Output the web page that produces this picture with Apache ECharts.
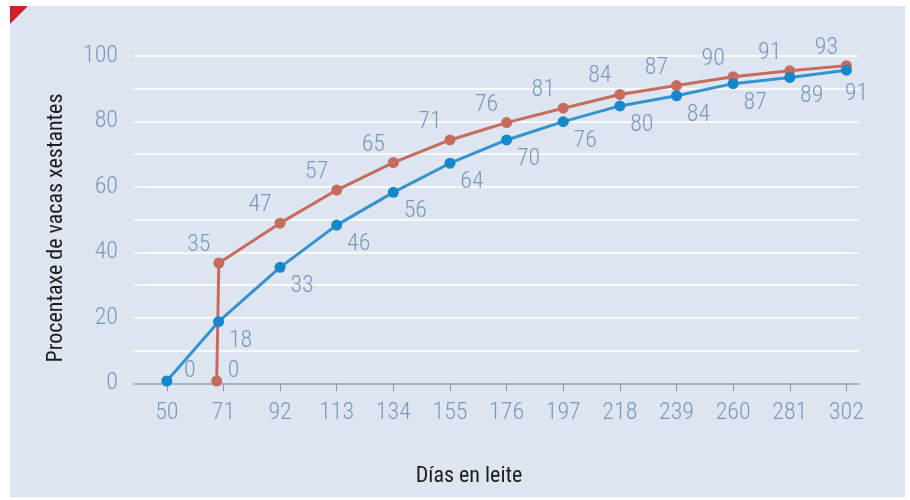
<!DOCTYPE html>
<html><head><meta charset="utf-8">
<script src="https://cdn.jsdelivr.net/npm/echarts@6/dist/echarts.min.js"></script>
<style>html,body{margin:0;padding:0;background:#fff}#c{width:910px;height:500px}</style>
</head><body><div id="c"></div>
<script>
const xTicks = [50,71,92,113,134,155,176,197,218,239,260,281,302];
const yTicks = [0,20,40,60,80,100];
const redX = [68.5,69.3,92,113,134,155,176,197,218,239,260,281,302];
const redY = [0.7,36.7,48.9,59.0,67.4,74.3,79.6,84.0,88.2,90.9,93.6,95.4,97.0];
const redLabels = [0,35,47,57,65,71,76,81,84,87,90,91,93];
const blueX = [50,69.2,92,113,134,155,176,197,218,239,260,281,302];
const blueY = [0.7,18.8,35.4,48.3,58.3,67.2,74.3,79.9,84.7,87.8,91.5,93.4,95.6];
const blueLabels = [0,18,33,46,56,64,70,76,80,84,87,89,91];
const xTitle = 'Días en leite';
const yTitle = 'Procentaxe de vacas xestantes';

const FONT = '"Roboto Condensed", Roboto, sans-serif';
const LBL = '#7d97ba';
const RED = '#c86b5f', BLUE = '#1588cc';

function build(xs, ys, labels, normalOff, zeroOff, lastOff) {
  return xs.map((x, i) => {
    let off = normalOff;
    if (labels[i] === 0) off = zeroOff;
    else if (i === xs.length - 1 && lastOff) off = lastOff;
    return { value: [x, ys[i]], label: { formatter: String(labels[i]), offset: off } };
  });
}

const chart = echarts.init(document.getElementById('c'));
const labelStyle = { show: true, position: 'inside', fontFamily: FONT, fontWeight: 300, fontSize: 24, color: LBL, align: 'center', verticalAlign: 'middle' };
chart.setOption({
  animation: false,
  graphic: [
    { type: 'rect', z: -100, silent: true, shape: { x: 10, y: 6, width: 895, height: 491 }, style: { fill: '#dde6f0' } },
    { type: 'polygon', z: 100, silent: true, shape: { points: [[10,6],[28,6],[10,24]] }, style: { fill: '#d0202c' } },
    { type: 'text', z: 100, silent: true, x: 56, y: 228, rotation: Math.PI / 2,
      style: { text: yTitle, font: '400 22px ' + FONT, fill: '#1e1b1c', align: 'center', verticalAlign: 'middle' } },
    { type: 'text', z: 100, silent: true, x: 469, y: 476,
      style: { text: xTitle, font: '400 22px ' + FONT, fill: '#1e1b1c', align: 'center', verticalAlign: 'middle' } }
  ],
  grid: [
    { left: 134, right: 51, top: 55.8, bottom: 116.7 },
    { left: 166.8, right: 63.6, top: 55.8, bottom: 116.7 }
  ],
  xAxis: [
    { gridIndex: 0, type: 'value', min: 0, max: 1, axisLine: { show: true, onZero: false, lineStyle: { color: '#8d99a6', width: 1.5 } },
      axisTick: { show: false }, axisLabel: { show: false }, splitLine: { show: false } },
    { gridIndex: 1, type: 'value', min: 50, max: 302, axisLine: { show: false },
      axisTick: { show: true, customValues: xTicks, length: 8, lineStyle: { color: '#8d99a6', width: 1 } },
      axisLabel: { show: true, customValues: xTicks, margin: 18, fontFamily: FONT, fontWeight: 300, fontSize: 24, color: LBL },
      splitLine: { show: false } }
  ],
  yAxis: [
    { gridIndex: 0, type: 'value', min: 0, max: 100, interval: 10,
      axisLine: { show: false }, axisTick: { show: false },
      axisLabel: { margin: 16, fontFamily: FONT, fontWeight: 300, fontSize: 24, color: LBL,
        formatter: v => yTicks.includes(v) ? String(v) : '' },
      splitLine: { show: true, lineStyle: { color: '#ffffff', width: 1.5 } } },
    { gridIndex: 1, type: 'value', min: 0, max: 100, show: false, splitLine: { show: false } }
  ],
  series: [
    { type: 'line', xAxisIndex: 1, yAxisIndex: 1, symbol: 'circle', symbolSize: 11,
      lineStyle: { color: RED, width: 3 }, itemStyle: { color: RED },
      label: labelStyle, data: build(redX, redY, redLabels, [-20, -18], [17, -10], null), z: 3 },
    { type: 'line', xAxisIndex: 1, yAxisIndex: 1, symbol: 'circle', symbolSize: 11,
      lineStyle: { color: '#3592d0', width: 3 }, itemStyle: { color: BLUE },
      label: labelStyle, data: build(blueX, blueY, blueLabels, [22, 19], [23, -10], [10, 24]), z: 4 }
  ]
});
</script></body></html>
